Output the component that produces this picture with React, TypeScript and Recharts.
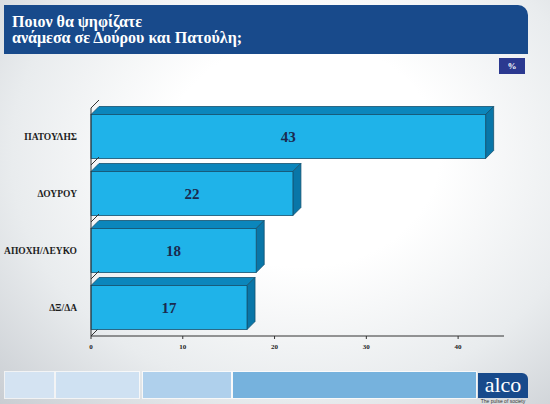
import { BarChart, Bar, XAxis, YAxis, LabelList } from "recharts";

const categories = ["ΠΑΤΟΥΛΗΣ", "ΔΟΥΡΟΥ", "ΑΠΟΧΗ/ΛΕΥΚΟ", "ΔΞ/ΔΑ"];
const values = [43, 22, 18, 17];
const xTicks = [0, 10, 20, 30, 40];

const data = categories.map((name, i) => ({ name, value: values[i] }));

const serif = "'Liberation Serif', 'Times New Roman', Times, serif";
const DEPTH = 8;
const GAP = 13;

// excel style 3d bar: front face + top + right side
const Bar3D = (props: any) => {
  const { x, y, width, height, index } = props;
  const d = DEPTH;
  const bandTop = y - GAP / 2;
  const bandBottom = y + height + GAP / 2;
  const last = index === data.length - 1;
  return (
    <g>
      <line x1={x} y1={bandTop} x2={x + d} y2={bandTop - d} stroke="#333" strokeWidth={1} />
      {last && <line x1={x} y1={bandBottom} x2={x + d} y2={bandBottom - d} stroke="#333" strokeWidth={1} />}
      <polygon
        points={`${x},${y} ${x + d},${y - d} ${x + width + d},${y - d} ${x + width},${y}`}
        fill="#0b86bc"
        stroke="#14506e"
        strokeWidth={0.8}
      />
      <polygon
        points={`${x + width},${y} ${x + width + d},${y - d} ${x + width + d},${y + height - d} ${x + width},${y + height}`}
        fill="#0976a8"
        stroke="#14506e"
        strokeWidth={0.8}
      />
      <rect x={x} y={y} width={width} height={height} fill="#1fb3e9" stroke="#14506e" strokeWidth={0.8} />
    </g>
  );
};

const App = () => {
  return (
    <div
      style={{
        position: "absolute",
        left: 0,
        top: 0,
        width: 550,
        height: 404,
        overflow: "hidden",
        fontFamily: serif,
        background:
          "radial-gradient(ellipse at 55% 38%, #ffffff 32%, #e9ecee 68%, #c9cdd2 100%)",
      }}
    >
      <div
        style={{
          position: "absolute",
          left: 4,
          top: 5,
          width: 524,
          height: 49,
          background: "#184a8b",
          borderTopRightRadius: 10,
          color: "#fff",
          fontWeight: "bold",
          fontSize: 16,
          lineHeight: "16px",
          boxSizing: "border-box",
          paddingLeft: 8,
          paddingTop: 9,
        }}
      >
        Ποιον θα ψηφίζατε
        <br />
        ανάμεσα σε Δούρου και Πατούλη;
      </div>
      <div
        style={{
          position: "absolute",
          left: 499,
          top: 58,
          width: 26,
          height: 16,
          background: "#2b3990",
          color: "#fff",
          fontWeight: "bold",
          fontSize: 9,
          lineHeight: "16px",
          textAlign: "center",
        }}
      >
        %
      </div>

      <div style={{ position: "absolute", left: 0, top: 0 }}>
        <BarChart
          width={550}
          height={404}
          data={data}
          layout="vertical"
          margin={{ top: 108, right: 46, bottom: 48, left: 0 }}
          barCategoryGap={GAP / 2}
        >
          <XAxis
            type="number"
            domain={[0, 45]}
            ticks={xTicks}
            interval={0}
            height={20}
            axisLine={{ stroke: "#333", strokeWidth: 1 }}
            tickLine={{ stroke: "#333" }}
            tickSize={3}
            tickMargin={5}
            tick={{ fontSize: 7, fontWeight: "bold", fill: "#222", fontFamily: serif }}
          />
          <YAxis
            type="category"
            dataKey="name"
            width={91}
            axisLine={{ stroke: "#333", strokeWidth: 1 }}
            tickLine={false}
            tickMargin={8}
            tick={{ fontSize: 9.5, fontWeight: "bold", fill: "#1e1e1e", fontFamily: serif }}
          />
          <Bar dataKey="value" isAnimationActive={false} shape={(p: any) => <Bar3D {...p} />}>
            <LabelList
              dataKey="value"
              position="center"
              style={{ fontSize: 15, fontWeight: "bold", fill: "#1b2a4e", fontFamily: serif }}
            />
          </Bar>
        </BarChart>
      </div>

      {[
        { l: 5, w: 49, c: "#d4e3f2" },
        { l: 56, w: 83, c: "#cfe1f2" },
        { l: 143, w: 88, c: "#afd0ec" },
        { l: 233, w: 243, c: "#76b2dd" },
      ].map((r, i) => (
        <div
          key={i}
          style={{
            position: "absolute",
            left: r.l,
            top: 372,
            width: r.w,
            height: 26,
            background: r.c,
            boxShadow: "0 0 0 1px rgba(255,255,255,0.7)",
          }}
        />
      ))}
      <div
        style={{
          position: "absolute",
          left: 478,
          top: 373,
          width: 50,
          height: 25,
          background: "#184a8b",
          borderTopRightRadius: 6,
          color: "#fff",
          fontSize: 22,
          lineHeight: "24px",
          textAlign: "center",
        }}
      >
        alco
      </div>
      <div
        style={{
          position: "absolute",
          left: 478,
          top: 398,
          width: 50,
          fontSize: 5,
          lineHeight: "6px",
          textAlign: "center",
          color: "#333",
          fontFamily: "Arial, sans-serif",
        }}
      >
        The pulse of society
      </div>
    </div>
  );
};

export default App;
